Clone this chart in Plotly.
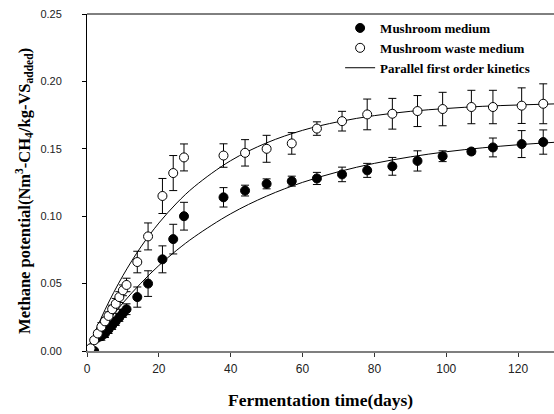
import plotly.graph_objects as go

# Measured data (days)
days = [1, 2, 3, 4, 5, 6, 7, 8, 9, 10, 11, 14, 17, 21, 24, 27, 38, 44, 50, 57,
        64, 71, 78, 85, 92, 99, 107, 113, 121, 127]

mushroom = [0.000, 0.000, 0.010, 0.011, 0.013, 0.016, 0.019, 0.022, 0.025, 0.028,
            0.031, 0.040, 0.050, 0.068, 0.083, 0.100, 0.114, 0.119, 0.124, 0.126,
            0.128, 0.131, 0.134, 0.137, 0.141, 0.1445, 0.148, 0.151, 0.1535, 0.155]
mushroom_err = [0.001, 0.001, 0.002, 0.003, 0.003, 0.003, 0.003, 0.003, 0.003, 0.003,
                0.004, 0.0075, 0.0095, 0.010, 0.011, 0.0103, 0.0072, 0.004, 0.0037, 0.0037,
                0.0045, 0.0054, 0.0052, 0.0066, 0.0075, 0.004, 0.002, 0.007, 0.010, 0.009]

waste = [0.002, 0.008, 0.013, 0.018, 0.022, 0.026, 0.031, 0.035, 0.040, 0.045,
         0.049, 0.066, 0.085, 0.115, 0.132, 0.1436, 0.145, 0.147, 0.150, 0.154,
         0.165, 0.1705, 0.1755, 0.176, 0.178, 0.1795, 0.181, 0.181, 0.182, 0.1834]
waste_err = [0.001, 0.002, 0.002, 0.003, 0.003, 0.003, 0.003, 0.004, 0.004, 0.004,
             0.005, 0.008, 0.010, 0.013, 0.013, 0.010, 0.0087, 0.0098, 0.010, 0.008,
             0.005, 0.0073, 0.0114, 0.0114, 0.0115, 0.0124, 0.0124, 0.0124, 0.0132, 0.0148]

# Fitted kinetic curves
fit_days = [0, 5, 10, 15, 20, 25, 30, 40, 50, 60, 70, 80, 90, 100, 110, 120, 130]
fit_mushroom = [0.0, 0.0189, 0.0356, 0.0503, 0.0634, 0.0748, 0.0849, 0.1018, 0.1149,
                0.1251, 0.1330, 0.1392, 0.1440, 0.1478, 0.1507, 0.1530, 0.1548]
fit_waste = [0.0, 0.0305, 0.0559, 0.0772, 0.0949, 0.1098, 0.1222, 0.1412, 0.1544,
             0.1637, 0.1701, 0.1746, 0.1778, 0.1799, 0.1815, 0.1825, 0.1833]

x_ticks = [0, 20, 40, 60, 80, 100, 120]
y_ticks = [0.00, 0.05, 0.10, 0.15, 0.20, 0.25]

fig = go.Figure()

fig.add_trace(go.Scatter(x=fit_days, y=fit_waste, mode="lines", line_shape="spline",
                         line=dict(color="black", width=1), showlegend=False,
                         hoverinfo="skip"))
fig.add_trace(go.Scatter(x=fit_days, y=fit_mushroom, mode="lines", line_shape="spline",
                         line=dict(color="black", width=1), showlegend=False,
                         hoverinfo="skip"))

fig.add_trace(go.Scatter(
    x=days, y=mushroom, mode="markers", name="<b>Mushroom medium</b>",
    marker=dict(symbol="circle", size=9, color="black", line=dict(color="black", width=1)),
    error_y=dict(type="data", array=mushroom_err, color="black", thickness=1, width=4)))

fig.add_trace(go.Scatter(
    x=days, y=waste, mode="markers", name="<b>Mushroom waste medium</b>",
    marker=dict(symbol="circle", size=9, color="white", line=dict(color="black", width=1)),
    error_y=dict(type="data", array=waste_err, color="black", thickness=1, width=4)))

# Legend-only entry for the line
fig.add_trace(go.Scatter(x=[None], y=[None], mode="lines",
                         name="<b>Parallel first order kinetics</b>",
                         line=dict(color="black", width=1)))

serif = "Liberation Serif, Times New Roman, serif"
sans = "Liberation Sans, Arial, sans-serif"

fig.update_layout(
    width=554, height=414,
    margin=dict(l=87, r=0, t=14, b=63),
    paper_bgcolor="white", plot_bgcolor="white",
    showlegend=True,
    legend=dict(x=0.542, y=1.003, xanchor="left", yanchor="top",
                bgcolor="rgba(0,0,0,0)", borderwidth=0,
                font=dict(family=serif, size=13, color="black"),
                tracegroupgap=0),
    xaxis=dict(range=[0, 130], tickvals=x_ticks, ticktext=[str(v) for v in x_ticks],
               showgrid=False, zeroline=False, showline=True, linecolor="#7f7f7f",
               linewidth=2, ticks="outside", ticklen=4, tickcolor="#333333",
               ticklabelstandoff=2,
               tickfont=dict(family=sans, size=12, color="#222222")),
    yaxis=dict(range=[0, 0.25], tickvals=y_ticks,
               ticktext=["%.2f" % v for v in y_ticks],
               showgrid=False, zeroline=False, showline=True, linecolor="black",
               linewidth=1, ticks="outside", ticklen=4, tickcolor="black",
               ticklabelstandoff=18,
               tickfont=dict(family=sans, size=11, color="#222222")),
    shapes=[dict(type="line", xref="paper", yref="paper", x0=0, x1=1, y0=1, y1=1,
                 line=dict(color="black", width=1))],
    annotations=[
        dict(text="<b>Fermentation time(days)</b>", xref="paper", yref="paper",
             x=0.5, y=-0.145, xanchor="center", yanchor="middle", showarrow=False,
             font=dict(family=serif, size=17.5, color="black")),
        dict(text="<b>Methane potential(Nm<sup>3</sup>-CH<sub>4</sub>/kg-VS<sub>added</sub>)</b>",
             xref="paper", yref="paper", x=-0.135, y=0.475, xanchor="center",
             yanchor="middle", textangle=-90, showarrow=False,
             font=dict(family=serif, size=16.5, color="black")),
    ],
)

fig.write_html("out.html", config={"displayModeBar": False},
               post_script="document.body.style.margin='0';document.body.style.padding='0';")
